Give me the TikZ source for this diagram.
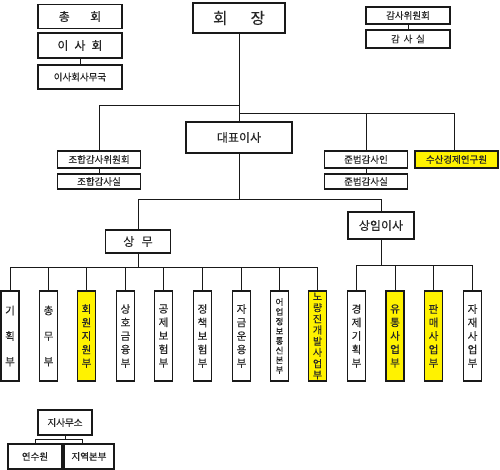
\documentclass[tikz,border=0pt]{standalone}
\usepackage{fontspec}
\setmainfont{Noto Sans CJK KR}[FakeBold=0.25]
\usetikzlibrary{calc}
\lineskiplimit=-20pt
\begin{document}
\begin{tikzpicture}[x=1pt,y=-1pt,
  bx/.style={draw=black!90, line width=1.1pt, inner sep=0pt, fill=white, text=black!85},
  vb/.style={bx, minimum width=18pt, minimum height=90pt, align=center},
  ln/.style={draw=black!90, line width=1pt},
  hl/.style={fill=yellow},
  vtthree/.style={font=\fontsize{10.5}{25.5}\selectfont},
  vtfive/.style={font=\fontsize{10.5}{13.5}\selectfont},
  vteight/.style={font=\fontsize{10}{11.2}\selectfont},
  vtsmall/.style={font=\fontsize{8.5}{9.7}\selectfont},
  small/.style={font=\fontsize{9.5}{11}\selectfont},
  mid/.style={font=\fontsize{12}{13}\selectfont}]
\useasboundingbox (0,0) rectangle (500,470);

% top left
\node[bx, mid, minimum width=84pt, minimum height=24pt] (chonghoe) at (80,16.5) {총\hspace{1.7em}회};
\node[bx, mid, minimum width=84pt, minimum height=25pt] (isahoe) at (80,45.5) {이\hspace{0.5em}사\hspace{0.5em}회};
\node[bx, small, minimum width=84pt, minimum height=24pt] (samuguk) at (80,77) {이사회사무국};

% chair
\node[bx, font=\fontsize{15.5}{17}\selectfont, minimum width=92pt, minimum height=30pt] (chair) at (239,18) {회\hspace{1.5em}장};

% audit top right
\node[bx, small, minimum width=84pt, minimum height=17pt] (gamsawi) at (408,15.5) {감사위원회};
\node[bx, small, minimum width=84pt, minimum height=18pt] (gamsasil) at (408,39) {감\hspace{0.4em}사\hspace{0.4em}실};

% CEO
\node[bx, mid, minimum width=106pt, minimum height=31pt] (ceo) at (239,137.5) {대표이사};

% second row
\node[bx, small, minimum width=83pt, minimum height=17pt] (johap) at (99,159.5) {조합감사위원회};
\node[bx, small, minimum width=83pt, minimum height=15pt] (johapsil) at (99,181.5) {조합감사실};
\node[bx, small, minimum width=83pt, minimum height=17pt] (junbeop) at (366,159.5) {준법감사인};
\node[bx, small, minimum width=83pt, minimum height=15pt] (junbeopsil) at (366,181.5) {준법감사실};
\node[bx, small, hl, minimum width=83pt, minimum height=17pt] (susan) at (456.5,159.5) {수산경제연구원};

% managing directors
\node[bx, mid, minimum width=65pt, minimum height=23pt] (sangmu) at (138,241.5) {상\hspace{0.6em}무};
\node[bx, mid, minimum width=66pt, minimum height=27pt] (sangim) at (381,225.5) {상임이사};

% departments left
\node[vb, vtthree] (d1) at (10,336) {기\\획\\부};
\node[vb, vtthree] (d2) at (48.5,336) {총\\무\\부};
\node[vb, vtfive, hl] (d3) at (86.5,336) {회\\원\\지\\원\\부};
\node[vb, vtfive] (d4) at (125.5,336) {상\\호\\금\\융\\부};
\node[vb, vtfive] (d5) at (163.5,336) {공\\제\\보\\험\\부};
\node[vb, vtfive] (d6) at (202.5,336) {정\\책\\보\\험\\부};
\node[vb, vtfive] (d7) at (241.5,336) {자\\금\\운\\용\\부};
\node[vb, vtsmall] (d8) at (279.5,336) {어\\업\\정\\보\\통\\신\\본\\부};
\node[vb, vteight, hl] (d9) at (317.5,336) {노\\량\\진\\개\\발\\사\\업\\부};

% departments right
\node[vb, vtfive] (e1) at (356.5,336) {경\\제\\기\\획\\부};
\node[vb, vtfive, hl] (e2) at (395,336) {유\\통\\사\\업\\부};
\node[vb, vtfive, hl] (e3) at (433.5,336) {판\\매\\사\\업\\부};
\node[vb, vtfive] (e4) at (472.5,336) {자\\재\\사\\업\\부};

% branch offices
\node[bx, small, minimum width=54pt, minimum height=25pt] (jisa) at (65,422.5) {지사무소};
\node[bx, small, minimum width=54pt, minimum height=25pt] (yeonsu) at (35,456.5) {연수원};
\node[bx, small, minimum width=50pt, minimum height=25pt] (jiyeok) at (89,456.5) {지역본부};

% connectors
\draw[ln] (isahoe.south) -- (samuguk.north);
\draw[ln] (gamsawi.south) -- (gamsasil.north);
\draw[ln] (chair.south) -- (ceo.north);
\coordinate (jl) at (239,106);
\coordinate (jr) at (239,114);
\draw[ln] (jl) -| (johap.north);
\draw[ln] (jr) -| (junbeop.north);
\draw[ln] (jr) -| ($(susan.north)+(-2.5,0)$);
\draw[ln] (johap.south) -- (johapsil.north);
\draw[ln] (junbeop.south) -- (junbeopsil.north);
\coordinate (jm) at (239,200);
\draw[ln] (ceo.south) -- (jm);
\draw[ln] (jm) -| (sangmu.north);
\draw[ln] (jm) -| (sangim.north);
\draw[ln] (sangmu.south) -- ++(0,13.5) coordinate (jb1);
\foreach \n in {d1,d2,d3,d4,d5,d6,d7,d8,d9} \draw[ln] (jb1) -| (\n.north);
\draw[ln] (sangim.south) -- ++(0,26) coordinate (jb2);
\foreach \n in {e1,e2,e3,e4} \draw[ln] (jb2) -| (\n.north);
\draw[ln] (jisa.south) -- ++(0,4) coordinate (jj);
\draw[ln] (jj) -| (yeonsu.north);
\draw[ln] (jj) -| ($(jiyeok.north)+(-7,0)$);
\end{tikzpicture}
\end{document}
